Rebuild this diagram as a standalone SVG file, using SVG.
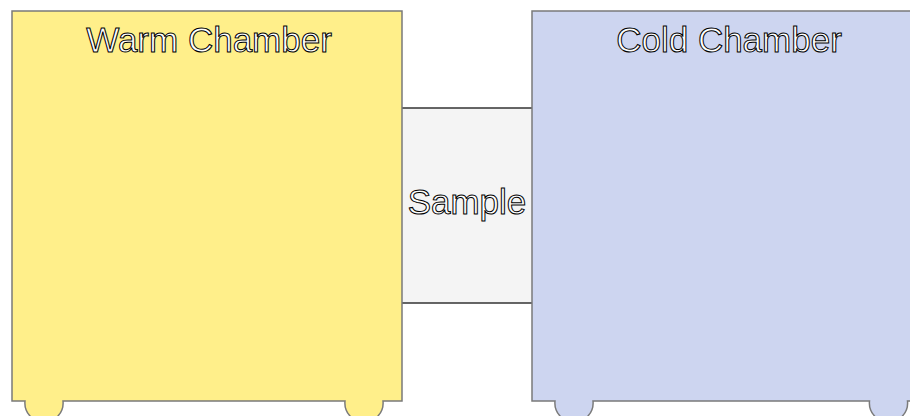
<svg xmlns="http://www.w3.org/2000/svg" width="910" height="416" viewBox="0 0 910 416">
<style>
.chamber{stroke:#7a7a7a;stroke-width:1.5}
.lbl{font-family:"Liberation Sans",Arial,sans-serif;font-size:35px;fill:#ffffff;stroke:#000000;stroke-width:1;text-anchor:middle}
</style>
<rect width="910" height="416" fill="#ffffff"/>
<g id="sample">
<rect x="402" y="108" width="130" height="195" fill="#f4f4f4"/>
<line x1="402" y1="108" x2="532" y2="108" stroke="#333333" stroke-width="1.5"/>
<line x1="402" y1="303" x2="532" y2="303" stroke="#333333" stroke-width="1.5"/>
<text class="lbl" x="467" y="214">Sample</text>
</g>
<g id="warm">
<path class="chamber" fill="#ffef8a" d="M12,11 H402 V401 H383 A19.1,19.1 0 1 1 345,401 H63 A19.1,19.1 0 1 1 25,401 H12 Z"/>
<text class="lbl" x="209" y="52">Warm Chamber</text>
</g>
<g id="cold">
<path class="chamber" fill="#cdd5f0" d="M532,11 H922 V401 H907.5 A19.1,19.1 0 1 1 869.5,401 H593 A19.1,19.1 0 1 1 555,401 H532 Z"/>
<text class="lbl" x="729" y="52">Cold Chamber</text>
</g>
<g id="connectors"></g>
</svg>
